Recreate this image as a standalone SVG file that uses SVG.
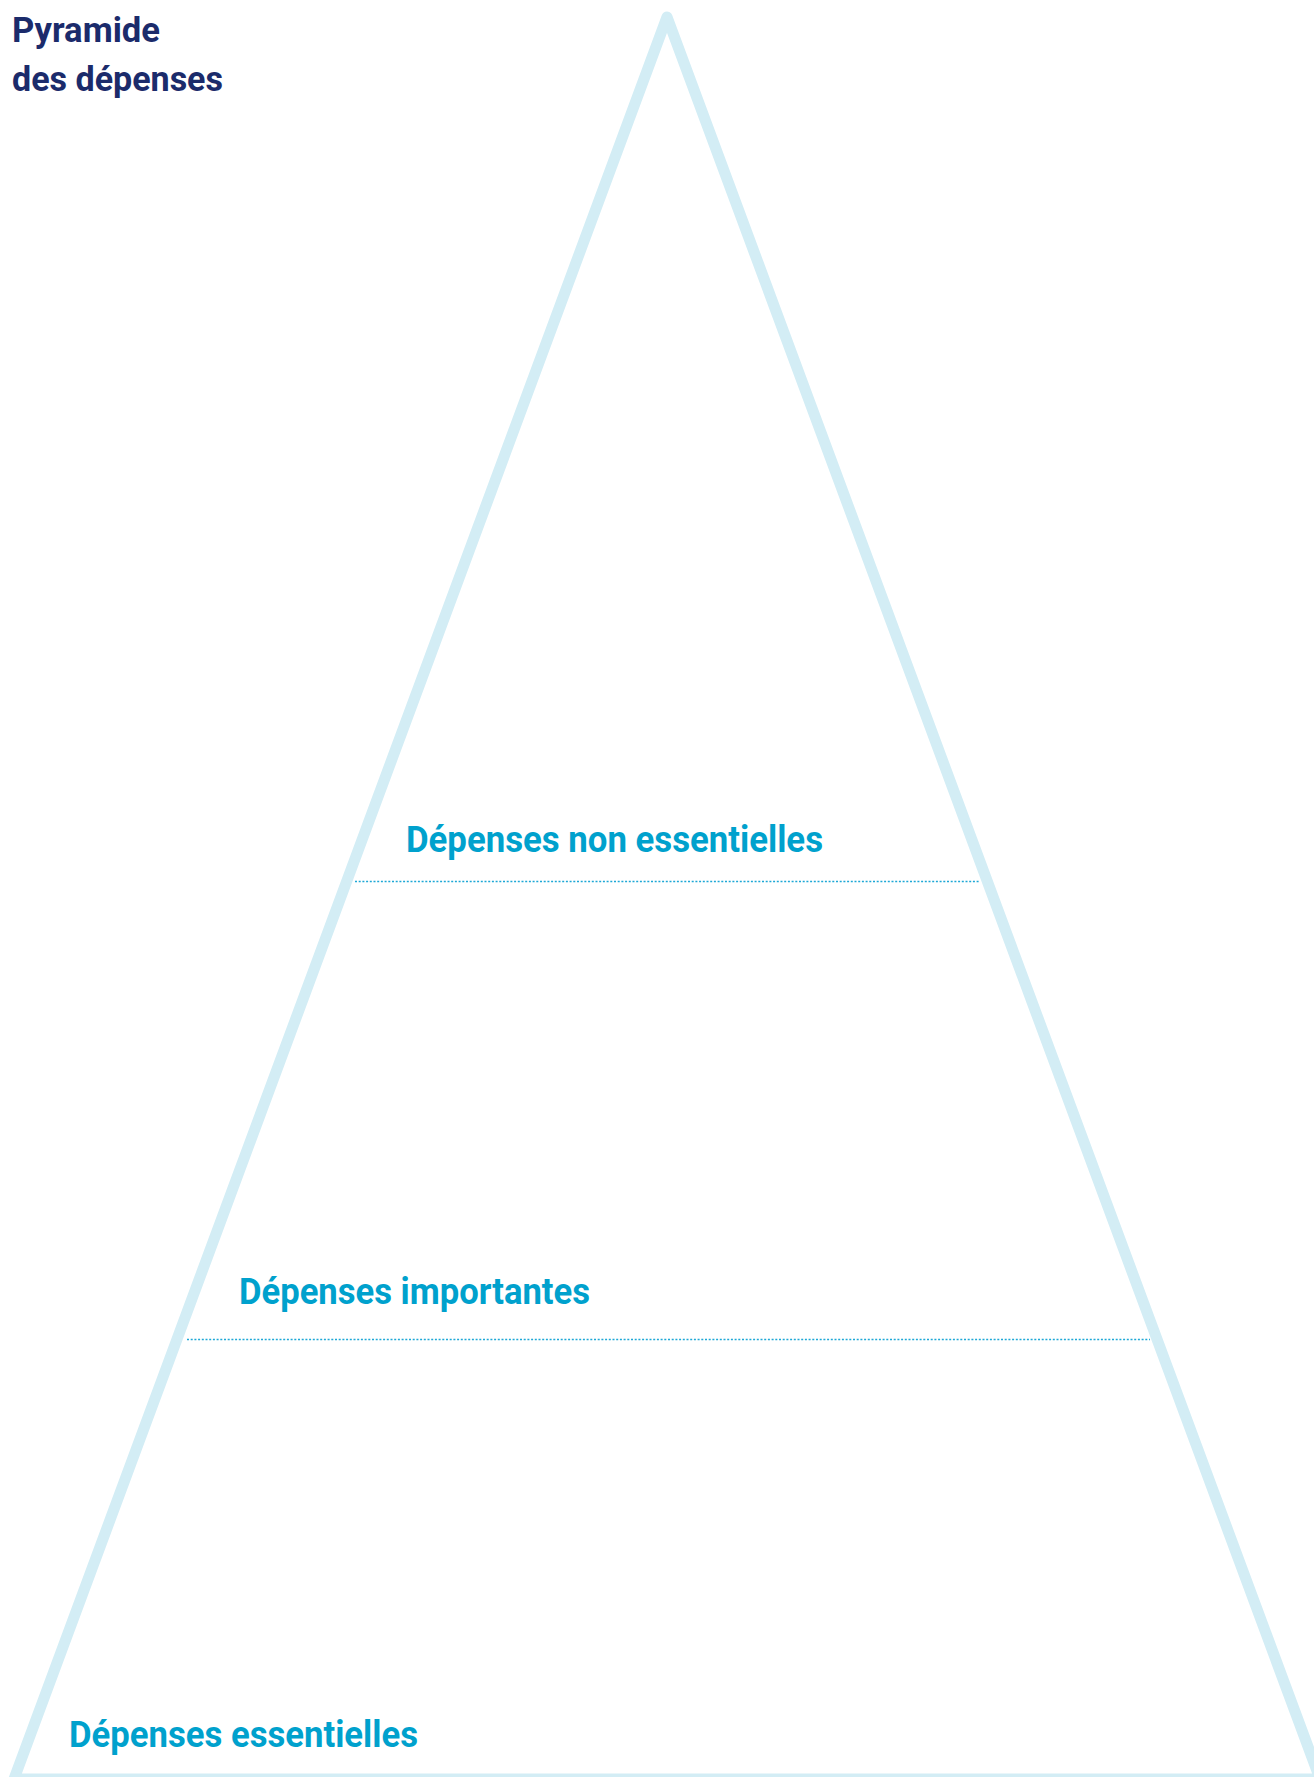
<svg xmlns="http://www.w3.org/2000/svg" width="1314" height="1777" viewBox="0 0 1314 1777">
<style>
.title{font-family:Roboto,"Liberation Sans",sans-serif;font-weight:700;font-size:35px;fill:#1b2b6b}
.lbl{font-family:Roboto,"Liberation Sans",sans-serif;font-weight:700;font-size:36px;fill:#00a1cd}
.tri{fill:none;stroke:#d3edf5;stroke-width:11;stroke-linejoin:round}
.sep{stroke:#1ea8d6;stroke-width:1.3;stroke-dasharray:2 1.7;fill:none}
</style>
<rect width="1314" height="1777" fill="#ffffff"/>
<g id="title">
<text class="title" x="12" y="42" textLength="148" lengthAdjust="spacingAndGlyphs">Pyramide</text>
<text class="title" x="12" y="91" textLength="211" lengthAdjust="spacingAndGlyphs">des dépenses</text>
</g>
<g id="pyramid">
<polygon class="tri" points="667,17 14,1779 1320,1779"/>
</g>
<g id="connectors">
<line class="sep" x1="355" y1="881.5" x2="980" y2="881.5"/>
<line class="sep" x1="187" y1="1339.5" x2="1150" y2="1339.5"/>
</g>
<g id="level-non-essentielles">
<text class="lbl" x="406" y="852" textLength="417" lengthAdjust="spacingAndGlyphs">Dépenses non essentielles</text>
</g>
<g id="level-importantes">
<text class="lbl" x="239" y="1304" textLength="351" lengthAdjust="spacingAndGlyphs">Dépenses importantes</text>
</g>
<g id="level-essentielles">
<text class="lbl" x="69" y="1747" textLength="349" lengthAdjust="spacingAndGlyphs">Dépenses essentielles</text>
</g>
</svg>
